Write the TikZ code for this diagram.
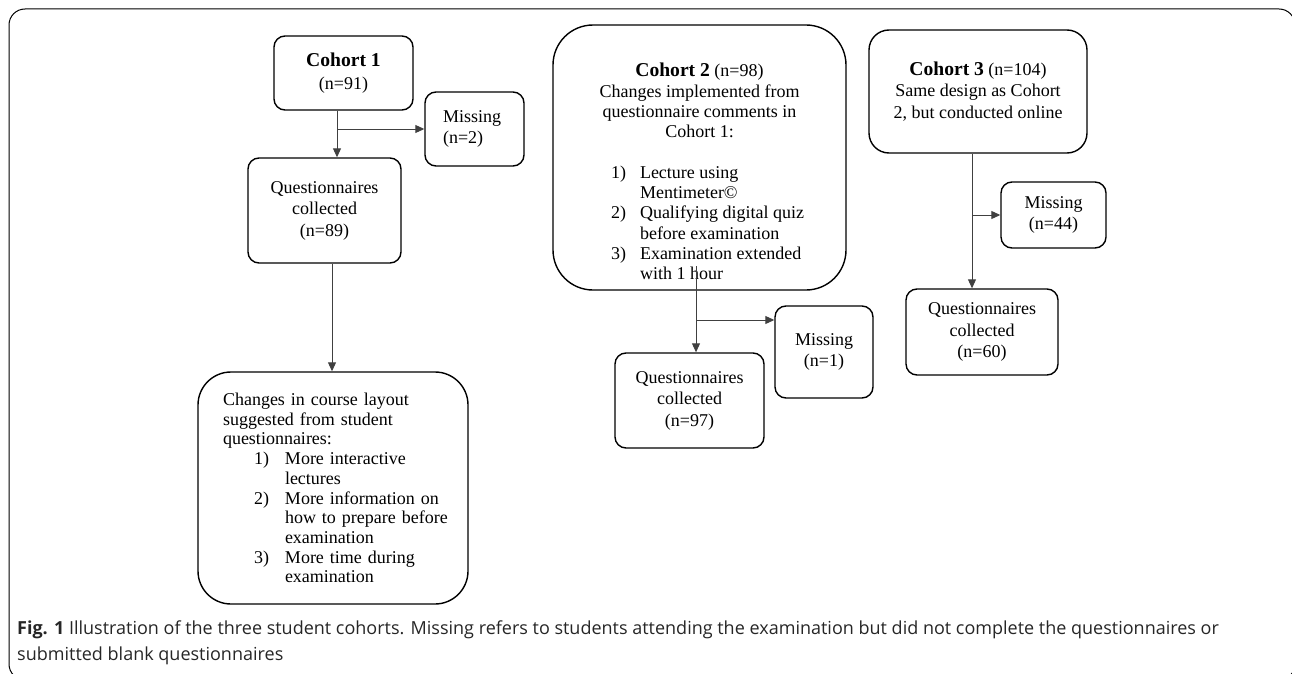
\documentclass[tikz,border=0pt]{standalone}
\usepackage{fontspec}
\setmainfont{Liberation Serif}
\newfontfamily\capfont{Open Sans}
\usetikzlibrary{arrows.meta}
\newcommand{\chead}[1]{{\fontsize{19.6}{21}\selectfont\bfseries #1}}
\newcommand{\itemc}[2]{\makebox[177pt][l]{\makebox[29pt][l]{#1}#2}}
\newcommand{\iteml}[2]{\hspace*{31pt}\makebox[31pt][l]{#1}\mbox{#2}}

\begin{document}
\begin{tikzpicture}[x=1pt,y=-1pt,
    box/.style={draw,line width=1.4pt,rounded corners=11pt,inner sep=0pt,align=center,
        font=\fontsize{18}{21.5}\selectfont},
    arr/.style={draw=black!75,line width=0.9pt,-{Triangle[length=9pt,width=8pt]}},
    captxt/.style={anchor=base west,inner sep=0pt,text=black!85,font=\capfont\fontsize{18}{25}\selectfont}]
    \useasboundingbox (0,0) rectangle (1292,674);
    \draw[line width=1pt,rounded corners=16pt] (9,9) rectangle (1295,680);

    \node[box,minimum width=139pt,minimum height=74pt] (c1) at (343.5,73) {\chead{Cohort 1}\\[2pt](n=91)};
    \node[box,minimum width=99pt,minimum height=74pt,align=left,text width=63pt] (m2) at (474.5,129) {Missing\\(n=2)};
    \node[box,minimum width=153pt,minimum height=105pt] (q1) at (324.5,210.5) {Questionnaires\\collected\\(n=89)};
    \node[box,rounded corners=33pt,minimum width=270pt,minimum height=232pt,align=left,text width=220pt,
        font=\fontsize{18}{19.7}\selectfont] (chg) at (333,488) {Changes in course layout\\
        suggested from student\\
        questionnaires:\\
        \iteml{1)}{More interactive}\\
        \iteml{}{lectures}\\
        \iteml{2)}{More information on}\\
        \iteml{}{how to prepare before}\\
        \iteml{}{examination}\\
        \iteml{3)}{More time during}\\
        \iteml{}{examination}};

    \node[box,rounded corners=40pt,minimum width=293pt,minimum height=265pt] (c2) at (699.5,157.5) {};
    \node[align=center,inner sep=0pt,font=\fontsize{18}{20.3}\selectfont] (c2txt) at (699.5,171.5) {\chead{Cohort 2} (n=98)\\
        Changes implemented from\\
        questionnaire comments in\\
        Cohort 1:\\[20.3pt]
        \itemc{1)}{Lecture using}\\
        \itemc{}{Mentimeter©}\\
        \itemc{2)}{Qualifying digital quiz}\\
        \itemc{}{before examination}\\
        \itemc{3)}{Examination extended}\\
        \itemc{}{with 1 hour}};
    \node[box,minimum width=98pt,minimum height=92pt] (m1) at (824,352) {Missing\\(n=1)};
    \node[box,minimum width=149pt,minimum height=95pt] (q2) at (689.5,400.5) {Questionnaires\\collected\\(n=97)};

    \node[box,rounded corners=20pt,minimum width=218pt,minimum height=123pt] (c3) at (978,91.5) {\chead{Cohort 3} (n=104)\\Same design as Cohort\\2, but conducted online};
    \node[box,minimum width=105pt,minimum height=66pt] (m3) at (1053.5,215) {Missing\\(n=44)};
    \node[box,minimum width=152pt,minimum height=86pt] (q3) at (982,332) {Questionnaires\\collected\\(n=60)};

    \coordinate (j1) at ([xshift=-6.5pt]c1.south |- m2.west);
    \draw[arr] ([xshift=-6.5pt]c1.south) -- ([xshift=-6.5pt]c1.south |- q1.north);
    \draw[arr] (j1) -- (m2.west);
    \draw[arr] ([xshift=7.5pt]q1.south) -- ([xshift=7.5pt]q1.south |- chg.north);

    \coordinate (c2in) at (696,266);
    \coordinate (j2) at (696,320);
    \draw[arr] (c2in) -- (c2in |- q2.north);
    \draw[arr] (j2) -- (j2 -| m1.west);

    \coordinate (j3) at ([xshift=-6pt]c3.south |- m3.west);
    \draw[arr] ([xshift=-6pt]c3.south) -- ([xshift=-6pt]c3.south |- q3.north);
    \draw[arr] (j3) -- (m3.west);

    \node[captxt] (cap1) at (17,634)
        {\textbf{Fig. 1} Illustration of the three student cohorts. Missing refers to students attending the examination but did not complete the questionnaires or};
    \node[captxt] (cap2) at (17,660) {submitted blank questionnaires};
\end{tikzpicture}
\end{document}
